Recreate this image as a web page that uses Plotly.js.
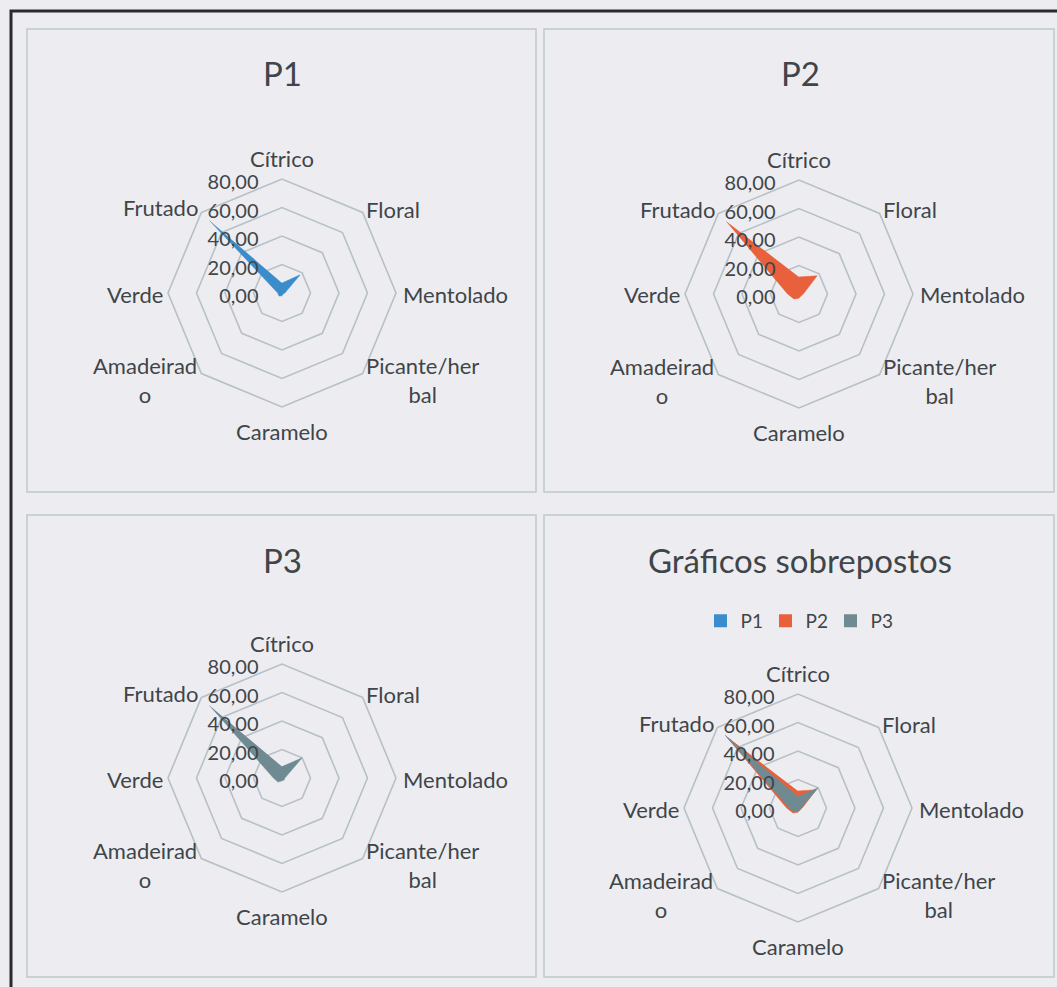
<!DOCTYPE html>
<html>
<head>
<meta charset="utf-8">
<script src="https://cdn.plot.ly/plotly-3.0.1.min.js"></script>
<style>
html,body{margin:0;padding:0;background:#ededf1;}
#chart{width:1057px;height:987px;}
</style>
</head>
<body>
<div id="chart"></div>
<script>
// ---- data ----
const categories = ['Cítrico','Floral','Mentolado','Picante/herbal','Caramelo','Amadeirado','Verde','Frutado'];
const categoryLabels = ['Cítrico','Floral','Mentolado','Picante/her<br>bal','Caramelo','Amadeirad<br>o','Verde','Frutado'];
const seriesNames = ['P1','P2','P3'];
const p1Values = [7, 18, 2, 1, 2, 3, 3, 72];
const p2Values = [12, 18, 3, 2, 3, 5, 8, 72];
const p3Values = [8, 20, 2, 2, 2, 4, 6, 72];
const radialTicks = [0, 20, 40, 60, 80];
const panelTitles = ['P1','P2','P3','Gráficos sobrepostos'];

// ---- layout helpers ----
const W = 1057, H = 987;
const px = x => x / W;
const py = y => 1 - y / H;
const colors = ['#3a8dca', '#e8603c', '#6f8a90'];
const textColor = '#3f4549';
const gridColor = '#b6c0c5';
const FONT = 'Lato, "Open Sans", sans-serif';

const R = 114;
const centers = [[282, 293], [799, 294], [282, 778], [798, 808]];
// pixel offsets of category label centres from the chart centre (Excel-like placement)
const labelOffsets = [[0, -135], [111, -84], [173, 1], [140, 87], [0, 138], [-137, 87], [-147, 1], [-122, -85]];

function polarLayout(i) {
  const [cx, cy] = centers[i];
  return {
    domain: {x: [px(cx - R), px(cx + R)], y: [py(cy + R), py(cy - R)]},
    bgcolor: 'rgba(0,0,0,0)',
    gridshape: 'linear',
    radialaxis: {
      range: [0, 80], tickvals: radialTicks, tickformat: '.2f',
      angle: 90, side: 'counterclockwise', showline: false,
      ticks: 'outside', ticklen: 5, tickcolor: 'rgba(0,0,0,0)',
      gridcolor: gridColor, gridwidth: 1.6,
      tickfont: {family: FONT, size: 20, color: textColor}
    },
    angularaxis: {
      type: 'category', categoryarray: categories,
      rotation: 90, direction: 'clockwise',
      showgrid: false, showline: true, linecolor: gridColor, linewidth: 1.6,
      ticks: '', showticklabels: false
    }
  };
}

const allValues = [p1Values, p2Values, p3Values];
const traces = [];
function addTrace(s, subplot) {
  traces.push({
    type: 'scatterpolar', subplot: subplot,
    r: allValues[s], theta: categories,
    name: seriesNames[s], fill: 'toself', fillcolor: colors[s],
    line: {color: colors[s], width: 0.5}, mode: 'lines',
    showlegend: false, hoverinfo: 'skip'
  });
}
addTrace(0, 'polar');
addTrace(1, 'polar2');
addTrace(2, 'polar3');
addTrace(0, 'polar4');
addTrace(1, 'polar4');
addTrace(2, 'polar4');
// legend entries (square swatches) for the overlay chart
seriesNames.forEach((n, s) => traces.push({
  type: 'scatterpolar', subplot: 'polar4', r: [null], theta: [null],
  name: n, mode: 'markers', marker: {symbol: 'square', size: 13, color: colors[s]},
  showlegend: true, hoverinfo: 'skip'
}));

const panels = [[27, 29, 536, 492], [544, 29, 1054, 492], [27, 515, 536, 977], [544, 515, 1054, 977]];
const shapes = panels.map(p => ({
  type: 'rect', xref: 'paper', yref: 'paper',
  x0: px(p[0]), x1: px(p[2]), y0: py(p[3]), y1: py(p[1]),
  line: {color: '#bfc7cb', width: 1.5}, fillcolor: 'rgba(0,0,0,0)'
}));
shapes.push({type: 'rect', xref: 'paper', yref: 'paper',
  x0: px(11), x1: px(1070), y0: py(1000), y1: py(11),
  line: {color: '#2b2b2d', width: 3}});

const titlePos = [[282, 73], [800, 73], [282, 560], [800, 560]];
const annotations = panelTitles.map((t, i) => ({
  text: t, xref: 'paper', yref: 'paper', x: px(titlePos[i][0]), y: py(titlePos[i][1]),
  xanchor: 'center', yanchor: 'middle', showarrow: false,
  font: {family: FONT, size: 33, color: textColor}
}));
centers.forEach(([cx, cy]) => {
  categoryLabels.forEach((lab, k) => annotations.push({
    text: lab, xref: 'paper', yref: 'paper',
    x: px(cx + labelOffsets[k][0]), y: py(cy + labelOffsets[k][1]),
    xanchor: 'center', yanchor: 'middle', align: 'center', showarrow: false,
    font: {family: FONT, size: 22, color: textColor}
  }));
});

const layout = {
  width: W, height: H, margin: {l: 0, r: 0, t: 0, b: 0},
  paper_bgcolor: '#ededf1', plot_bgcolor: '#ededf1',
  separators: ',.',
  font: {family: FONT, color: textColor},
  polar: polarLayout(0), polar2: polarLayout(1), polar3: polarLayout(2), polar4: polarLayout(3),
  shapes: shapes, annotations: annotations,
  showlegend: true,
  legend: {orientation: 'h', x: px(798), y: py(621), xanchor: 'center', yanchor: 'middle',
    bgcolor: 'rgba(0,0,0,0)', font: {family: FONT, size: 19, color: textColor},
    itemwidth: 30, entrywidth: 20, entrywidthmode: 'pixels', tracegroupgap: 0}
};

Plotly.newPlot('chart', traces, layout, {displayModeBar: false, staticPlot: true});
</script>
</body>
</html>
